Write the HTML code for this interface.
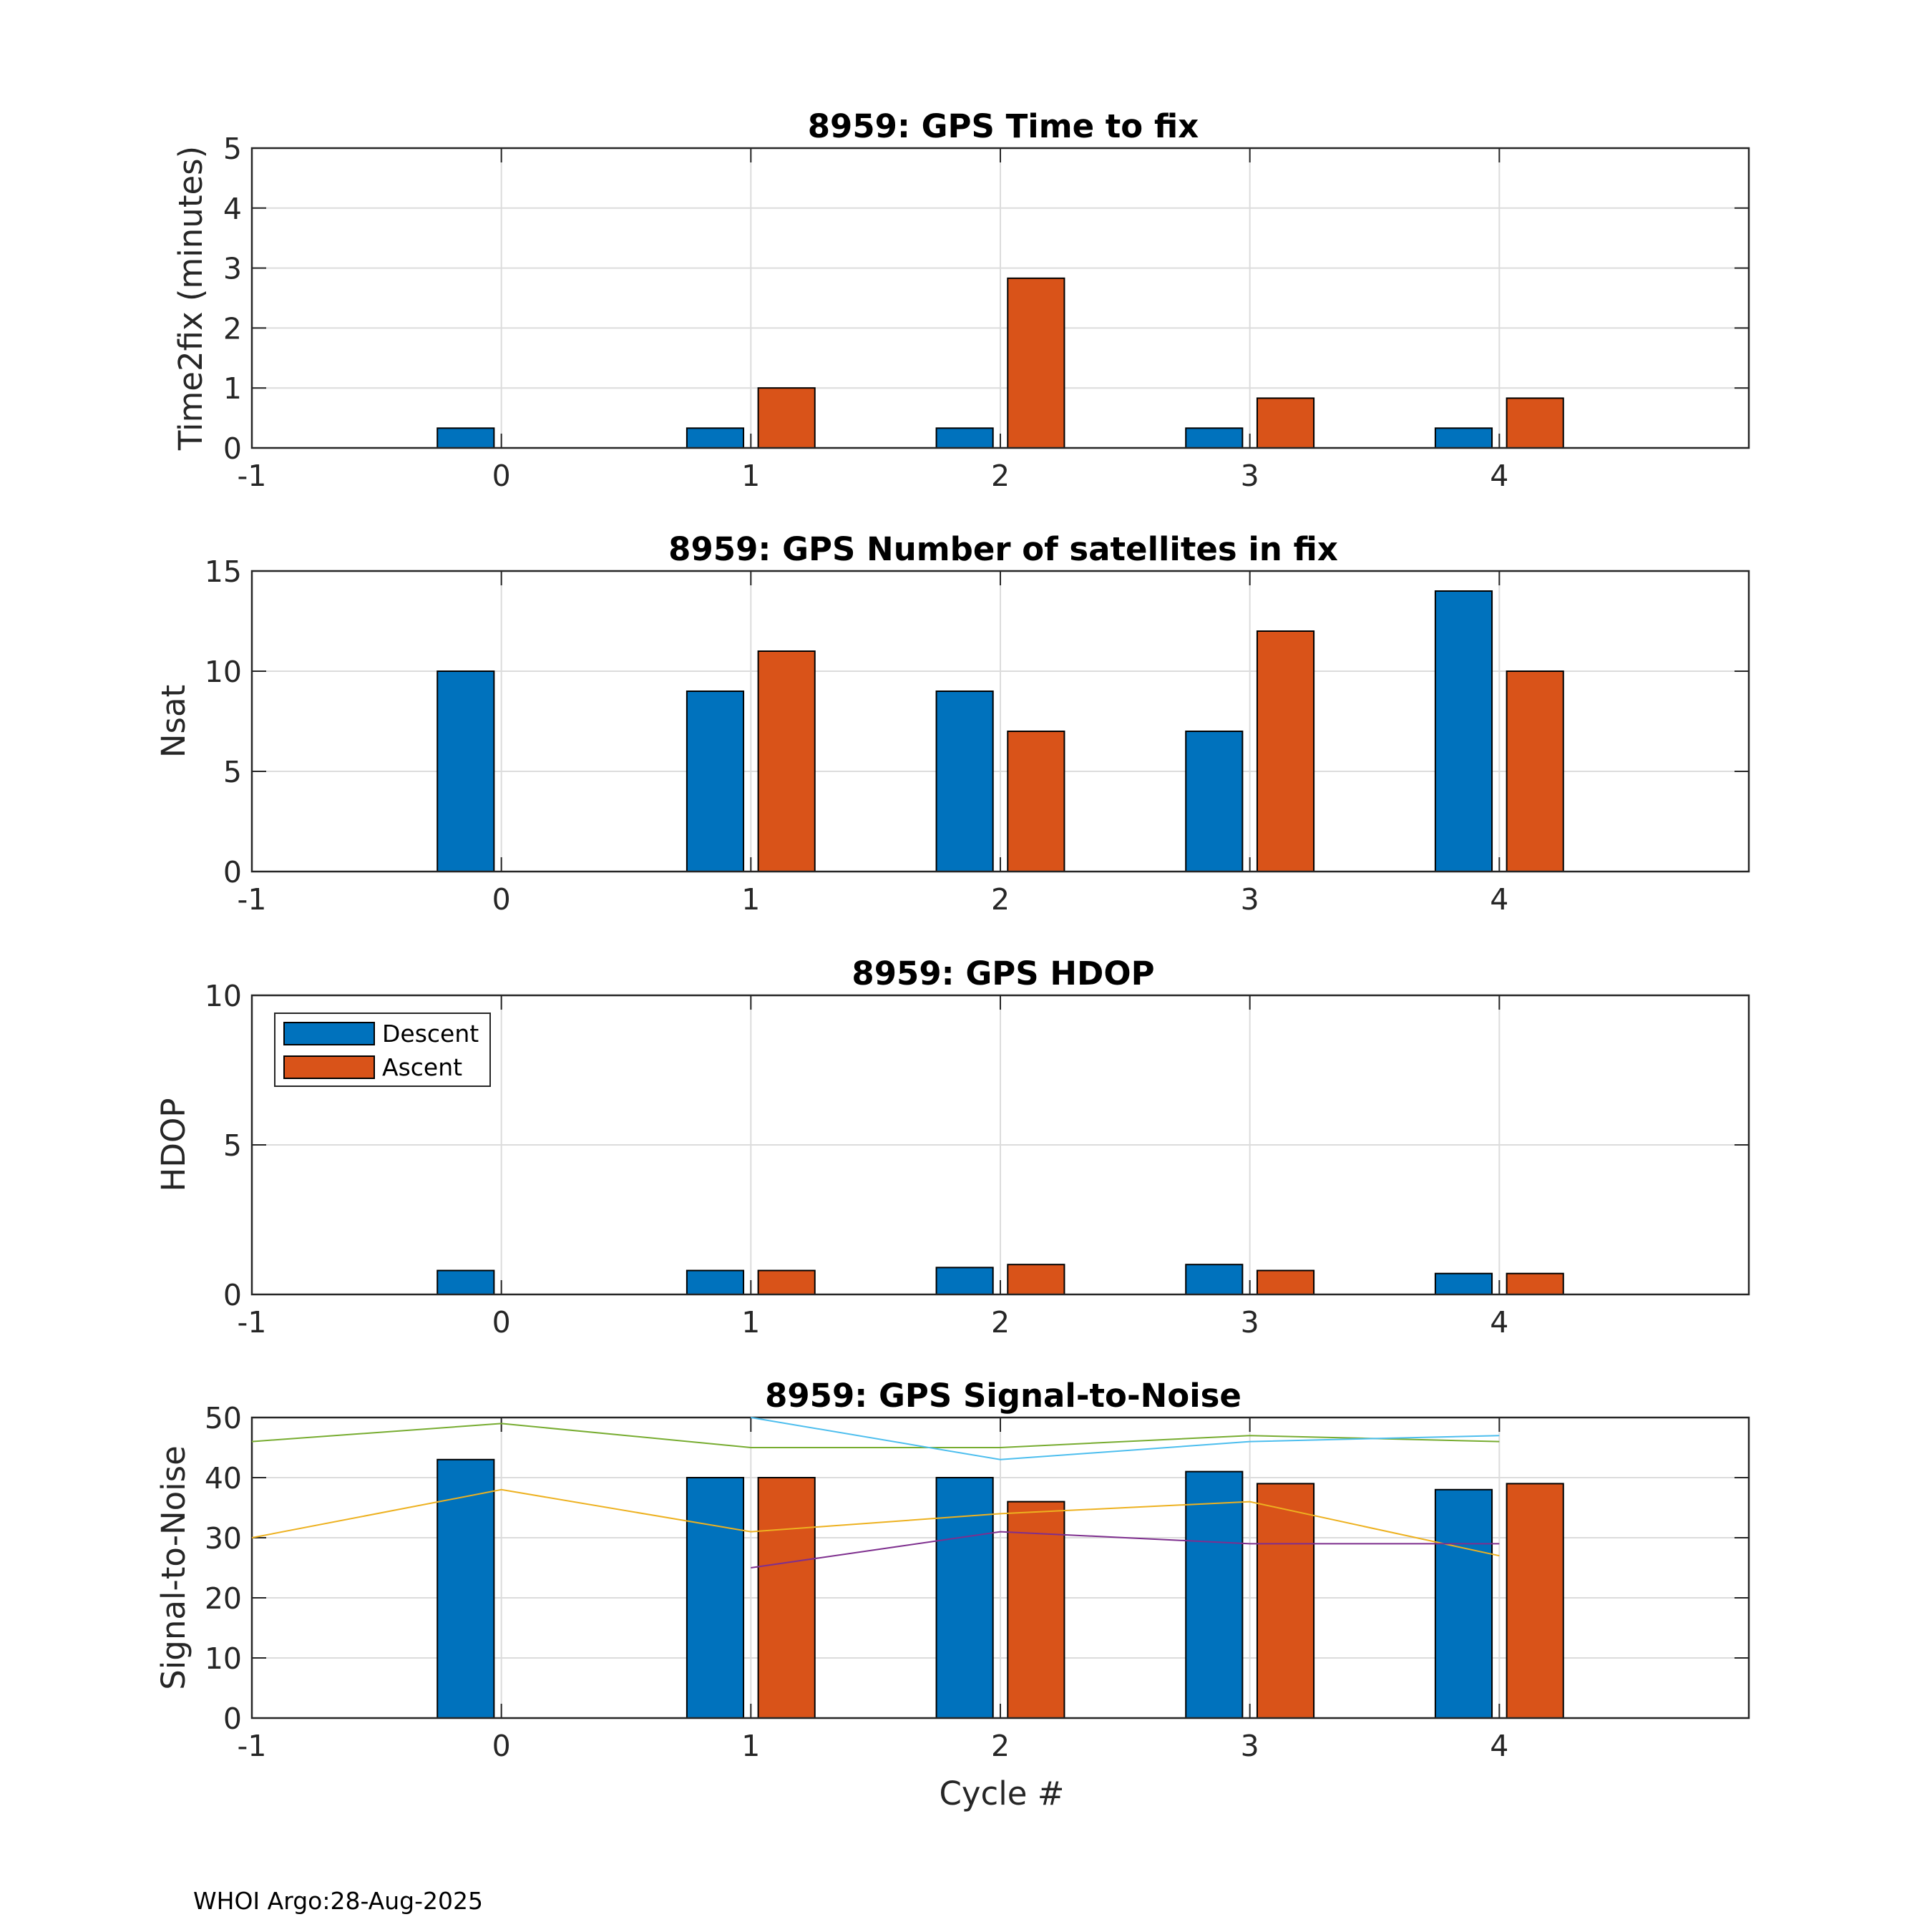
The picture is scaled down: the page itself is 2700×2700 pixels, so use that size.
<!DOCTYPE html>
<html><head><meta charset="utf-8">
<style>
html,body{margin:0;padding:0;background:#fff;}
svg{display:block;font-family:"DejaVu Sans","Liberation Sans",sans-serif;}
</style></head>
<body>
<svg id="chart" width="2700" height="2700" viewBox="0 0 2700 2700" xmlns="http://www.w3.org/2000/svg">
<rect x="0" y="0" width="2700" height="2700" fill="#fff"/>
<text x="270" y="2668" font-size="33" fill="#000">WHOI Argo:28-Aug-2025</text>
<text x="1400" y="2522" font-size="45" fill="#262626" text-anchor="middle">Cycle #</text>
</svg>
<script>
const cycles = [0, 1, 2, 3, 4];
const xTicks = [-1, 0, 1, 2, 3, 4];
const t2fDescent = [0.33, 0.33, 0.33, 0.33, 0.33];
const t2fAscent = [null, 1.0, 2.83, 0.83, 0.83];
const nsatDescent = [10, 9, 9, 7, 14];
const nsatAscent = [null, 11, 7, 12, 10];
const hdopDescent = [0.8, 0.8, 0.9, 1.0, 0.7];
const hdopAscent = [null, 0.8, 1.0, 0.8, 0.7];
const snrDescent = [43, 40, 40, 41, 38];
const snrAscent = [null, 40, 36, 39, 39];
const greenX = [-1, 0, 1, 2, 3, 4];
const greenY = [46, 49, 45, 45, 47, 46];
const cyanX = [1, 2, 3, 4];
const cyanY = [50, 43, 46, 47];
const yellowX = [-1, 0, 1, 2, 3, 4];
const yellowY = [30, 38, 31, 34, 36, 27];
const purpleX = [1, 2, 3, 4];
const purpleY = [25, 31, 29, 29];
const t2fTicks = [0, 1, 2, 3, 4, 5];
const nsatTicks = [0, 5, 10, 15];
const hdopTicks = [0, 5, 10];
const snrTicks = [0, 10, 20, 30, 40, 50];

const NS = "http://www.w3.org/2000/svg";
const svg = document.getElementById("chart");
const L = 352, R = 2444, XMIN = -1, XMAX = 5;
const BLUE = "#0072bd", ORANGE = "#d95319";
function sx(v){ return L + (v - XMIN) / (XMAX - XMIN) * (R - L); }
function mk(tag, attrs, parent){
  const e = document.createElementNS(NS, tag);
  for (const k in attrs) e.setAttribute(k, attrs[k]);
  (parent || svg).appendChild(e);
  return e;
}
function panel(key, top, bot, ymax, yticks, title, ylabel, desc, asc, ylx){
  const g = mk("g", {});
  
  
  const sy = v => bot - v / ymax * (bot - top);
  xTicks.forEach(t => {
    const l = mk("line", {x1: sx(t), x2: sx(t), y1: top, y2: bot, stroke: "#dcdcdc", "stroke-width": 2}, g);
    
    
  });
  yticks.forEach(t => {
    const l = mk("line", {x1: L, x2: R, y1: sy(t), y2: sy(t), stroke: "#dcdcdc", "stroke-width": 2}, g);
    
    
  });
  const bw = 0.227 * (R - L) / (XMAX - XMIN);
  cycles.forEach((c, i) => {
    if (desc[i] != null) {
      const r = mk("rect", {x: sx(c - 0.143) - bw/2, y: sy(desc[i]), width: bw, height: sy(0) - sy(desc[i]), fill: BLUE, stroke: "#000", "stroke-width": 2}, g);
      
      
    }
    if (asc[i] != null) {
      const r = mk("rect", {x: sx(c + 0.143) - bw/2, y: sy(asc[i]), width: bw, height: sy(0) - sy(asc[i]), fill: ORANGE, stroke: "#000", "stroke-width": 2}, g);
      
      
    }
  });
  const f = mk("rect", {x: L, y: top, width: R - L, height: bot - top, fill: "none", stroke: "#262626", "stroke-width": 2.5}, g);
  
  
  xTicks.forEach(t => {
    mk("line", {x1: sx(t), x2: sx(t), y1: bot, y2: bot - 20, stroke: "#262626", "stroke-width": 2}, g);
    mk("line", {x1: sx(t), x2: sx(t), y1: top, y2: top + 20, stroke: "#262626", "stroke-width": 2}, g);
    const tx = mk("text", {x: sx(t), y: bot + 53, "font-size": 41, fill: "#262626", "text-anchor": "middle"}, g);
    tx.textContent = String(t);
    
    
  });
  yticks.forEach(t => {
    mk("line", {x1: L, x2: L + 20, y1: sy(t), y2: sy(t), stroke: "#262626", "stroke-width": 2}, g);
    mk("line", {x1: R, x2: R - 20, y1: sy(t), y2: sy(t), stroke: "#262626", "stroke-width": 2}, g);
    const tx = mk("text", {x: L - 14, y: sy(t) + 15, "font-size": 41, fill: "#262626", "text-anchor": "end"}, g);
    tx.textContent = String(t);
    
    
  });
  const tt = mk("text", {x: 1402, y: top - 15, "font-size": 45, "font-weight": "bold", fill: "#000", "text-anchor": "middle"}, g);
  tt.textContent = title;
  
  
  const cy = (top + bot) / 2;
  const yl = mk("text", {x: 0, y: 0, "font-size": 45, fill: "#262626", "text-anchor": "middle", transform: "translate(" + ylx + "," + cy + ") rotate(-90)"}, g);
  yl.textContent = ylabel;
  
  
  return {g, sy};
}
panel("time2fix", 207, 626, 5, t2fTicks, "8959: GPS Time to fix", "Time2fix (minutes)", t2fDescent, t2fAscent, 282);
panel("nsat", 798, 1218, 15, nsatTicks, "8959: GPS Number of satellites in fix", "Nsat", nsatDescent, nsatAscent, 258);
const hd = panel("hdop", 1391, 1809, 10, hdopTicks, "8959: GPS HDOP", "HDOP", hdopDescent, hdopAscent, 258);
const sn = panel("snr", 1981, 2401, 50, snrTicks, "8959: GPS Signal-to-Noise", "Signal-to-Noise", snrDescent, snrAscent, 258);

function series(xs, ys, color, name){
  const pts = xs.map((x, i) => sx(x) + "," + sn.sy(ys[i])).join(" ");
  const p = mk("polyline", {points: pts, fill: "none", stroke: color, "stroke-width": 2}, sn.g);
  
  
}
series(greenX, greenY, "#77ac30", "snr-line-green");
series(cyanX, cyanY, "#4dbeee", "snr-line-cyan");
series(yellowX, yellowY, "#edb120", "snr-line-yellow");
series(purpleX, purpleY, "#7e2f8e", "snr-line-purple");

const lg = mk("g", {});


mk("rect", {x: 384, y: 1416, width: 301, height: 102, fill: "#fff", stroke: "#262626", "stroke-width": 2}, lg);
[["Descent", BLUE, 1444], ["Ascent", ORANGE, 1491]].forEach(([lab, col, y]) => {
  const r = mk("rect", {x: 397, y: y - 15, width: 126, height: 31, fill: col, stroke: "#000", "stroke-width": 2}, lg);
  
  
  const t = mk("text", {x: 534, y: y + 12, "font-size": 33, fill: "#000"}, lg);
  t.textContent = lab;
  
  
});
</script>
</body></html>
